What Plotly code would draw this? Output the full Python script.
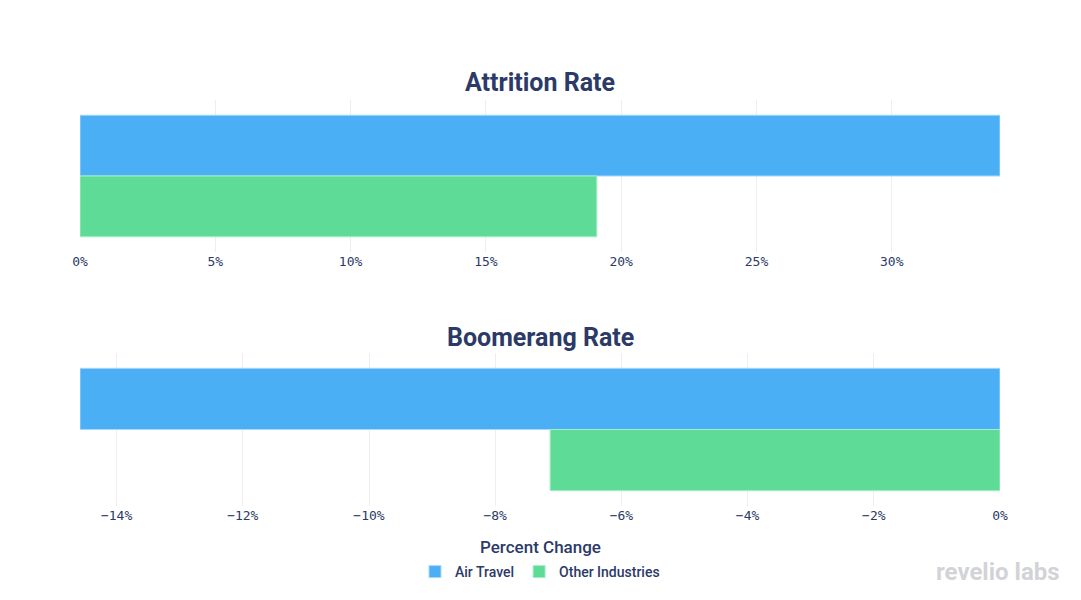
import plotly.graph_objects as go
from plotly.subplots import make_subplots

series = ["Air Travel", "Other Industries"]
attrition = [34.0, 19.1]
boomerang = [-14.58, -7.13]
colors = ["#4AAFF5", "#5EDB96"]
edge = ["#A9D8FA", "#A8EDC6"]
top_ticks = [0, 5, 10, 15, 20, 25, 30]
top_labels = ["0%", "5%", "10%", "15%", "20%", "25%", "30%"]
bot_ticks = [-14, -12, -10, -8, -6, -4, -2, 0]
bot_labels = ["\u221214%", "\u221212%", "\u221210%", "\u22128%", "\u22126%", "\u22124%", "\u22122%", "0%"]
panel_titles = ["Attrition Rate", "Boomerang Rate"]
legend_title = "Percent Change"

navy = "#2B3A67"

fig = make_subplots(rows=2, cols=1)
for i, name in enumerate(series):
    fig.add_trace(go.Bar(y=[""], x=[attrition[i]], orientation="h", name=name,
                         marker=dict(color=colors[i], line=dict(color=edge[i], width=1)),
                         legendgroup=name, showlegend=True), row=1, col=1)
    fig.add_trace(go.Bar(y=[""], x=[boomerang[i]], orientation="h", name=name,
                         marker=dict(color=colors[i], line=dict(color=edge[i], width=1)),
                         legendgroup=name, showlegend=False), row=2, col=1)

H = 600.0
tickfont = dict(family="DejaVu Sans Mono", size=13, color=navy)
fig.update_layout(
    width=1081, height=600,
    margin=dict(l=80, r=81, t=0, b=0),
    paper_bgcolor="white", plot_bgcolor="white",
    barmode="group", bargap=0.2, bargroupgap=0,
    font=dict(family="Roboto", color=navy),
    xaxis=dict(range=[0, 34.0], tickmode="array", tickvals=top_ticks, ticktext=top_labels,
               showgrid=True, gridcolor="#EDEDF2", zeroline=False, showline=False,
               tickfont=tickfont),
    xaxis2=dict(range=[-14.58, 0], tickmode="array", tickvals=bot_ticks, ticktext=bot_labels,
                showgrid=True, gridcolor="#EDEDF2", zeroline=False, showline=False,
                tickfont=tickfont),
    yaxis=dict(domain=[1 - 252 / H, 1 - 100 / H], autorange="reversed",
               showticklabels=False, showgrid=False, zeroline=False),
    yaxis2=dict(domain=[1 - 506 / H, 1 - 353 / H], autorange="reversed",
                showticklabels=False, showgrid=False, zeroline=False),
    legend=dict(orientation="h", x=0.5, xanchor="center", y=1 - 572 / H, yanchor="middle",
                itemwidth=30,
                font=dict(family="Roboto", size=14, color=navy, weight=500)),
    showlegend=True,
)

fig.add_annotation(text="<b>" + panel_titles[0] + "</b>", xref="paper", yref="paper",
                   x=0.5, y=1 - 83 / H, xanchor="center", yanchor="middle", showarrow=False,
                   font=dict(family="Roboto", size=25, color=navy))
fig.add_annotation(text="<b>" + panel_titles[1] + "</b>", xref="paper", yref="paper",
                   x=0.5, y=1 - 337 / H, xanchor="center", yanchor="middle", showarrow=False,
                   font=dict(family="Roboto", size=25, color=navy))
fig.add_annotation(text=legend_title, xref="paper", yref="paper",
                   x=0.5, y=1 - 547 / H, xanchor="center", yanchor="middle", showarrow=False,
                   font=dict(family="Roboto", size=17, color=navy, weight=500))
fig.add_annotation(text="<b>revelio labs</b>", xref="paper", yref="paper",
                   x=1.067, y=1 - 572 / H, xanchor="right", yanchor="middle", showarrow=False,
                   font=dict(family="Roboto", size=24, color="#D2D3D7"))

fig.write_html("out.html", config={"displayModeBar": False},
               post_script="document.body.style.margin='0';")
